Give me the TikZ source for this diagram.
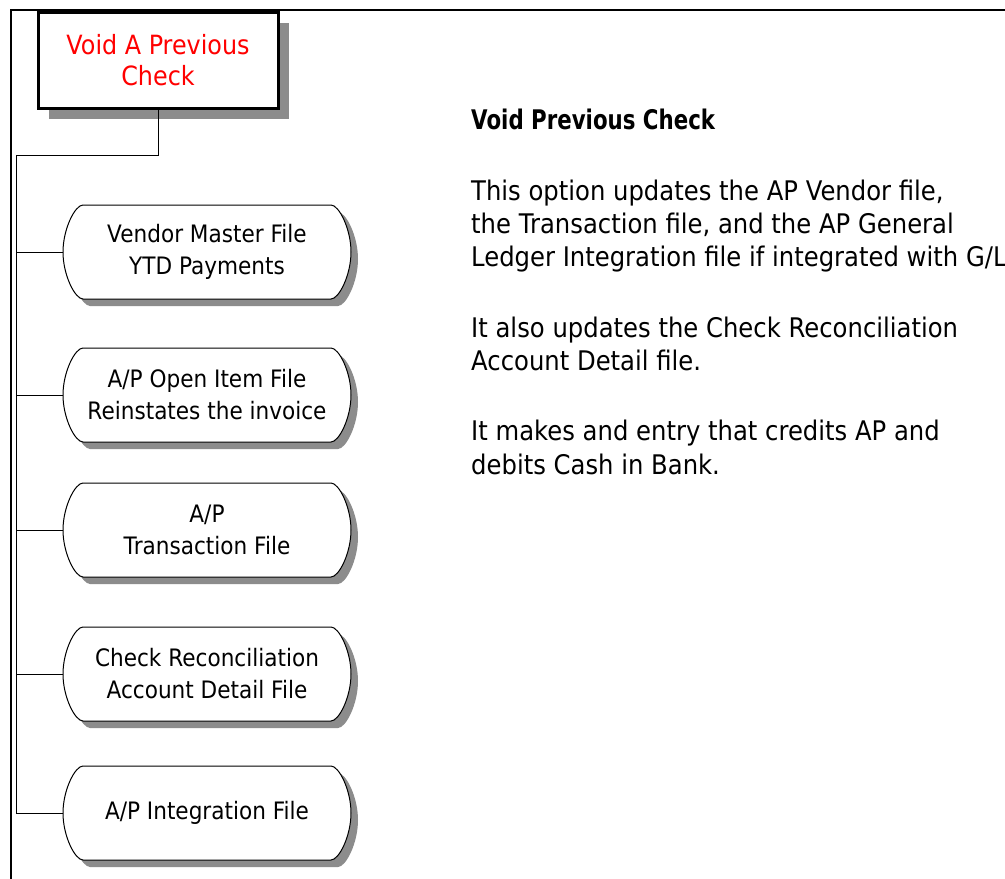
\documentclass[tikz,border=0pt]{standalone}
\usepackage{fontspec}
\setmainfont{DejaVu Sans}[FakeStretch=0.9]
\newfontfamily\headfont{DejaVu Sans}[FakeStretch=0.79]
\usetikzlibrary{shadows}
\definecolor{shadowgray}{RGB}{140,140,140}
% outline of a file box centred at (#1,#2): flat top/bottom, bulging ends
\newcommand{\termpath}[2]{%
  ({#1-124},{#2-47}) -- ({#1+124},{#2-47})
  .. controls ({#1+132},{#2-47}) and ({#1+144},{#2-23}) .. ({#1+144},{#2})
  .. controls ({#1+144},{#2+23}) and ({#1+132},{#2+47}) .. ({#1+124},{#2+47})
  -- ({#1-124},{#2+47})
  .. controls ({#1-132},{#2+47}) and ({#1-144},{#2+23}) .. ({#1-144},{#2})
  .. controls ({#1-144},{#2-23}) and ({#1-132},{#2-47}) .. ({#1-124},{#2-47}) -- cycle}
\begin{document}
\begin{tikzpicture}[x=1pt,y=-1pt,
  fileshadow/.style={fill=shadowgray, shift={(7,7)}},
  fileoutline/.style={draw, fill=white, line width=1pt},
  filetext/.style={rectangle, minimum width=288pt, minimum height=94pt, inner sep=0pt,
    align=center, font=\fontsize{24}{32}\selectfont},
  titlebox/.style={rectangle, draw, line width=3pt, fill=white, minimum width=240pt,
    minimum height=96pt, inner sep=0pt, align=center, text=red,
    font=\fontsize{26.5}{31}\selectfont,
    drop shadow={shadow xshift=11pt, shadow yshift=-11pt, fill=shadowgray, opacity=1}},
  txt/.style={anchor=base west, inner sep=0pt, font=\fontsize{27}{33}\selectfont},
  conn/.style={line width=1pt},
  frame/.style={line width=2pt}]
\clip (0,0) rectangle (1005,879);
\fill[white] (0,0) rectangle (1005,879);
% frame
\draw[frame] (1010,10) -- (11,10) -- (11,890);
% title box
\node[titlebox] (top) at (158,60) {Void A Previous\\Check};
% file boxes
\foreach \y in {252,395,530,674,813}{
  \fill[fileshadow] \termpath{207}{\y};
  \draw[fileoutline] \termpath{207}{\y};
}
\node[filetext] (n1) at (207,252) {Vendor Master File\\YTD Payments};
\node[filetext] (n2) at (207,395) {A/P Open Item File\\Reinstates the invoice};
\node[filetext] (n3) at (207,530) {A/P\\Transaction File};
\node[filetext] (n4) at (207,674) {Check Reconciliation\\Account Detail File};
\node[filetext] (n5) at (207,813) {A/P Integration File};
% connectors
\coordinate (bus) at (16,155);
\draw[conn] (top.south) |- (bus) -- (bus |- n5.west);
\foreach \n in {n1,n2,n3,n4,n5}{
  \draw[conn] (bus |- \n.west) -- (\n.west);
}
% description text
\node[txt] (h) at (471,129) {\headfont\bfseries Void Previous Check};
\node[txt] (l1) at (471,200) {This option updates the AP Vendor file,};
\node[txt] (l2) at (471,233) {the Transaction file, and the AP General};
\node[txt] (l3) at (471,266) {Ledger Integration file if integrated with G/L};
\node[txt] (l4) at (471,337) {It also updates the Check Reconciliation};
\node[txt] (l5) at (471,370) {Account Detail file.};
\node[txt] (l6) at (471,440) {It makes and entry that credits AP and};
\node[txt] (l7) at (471,474) {debits Cash in Bank.};
\end{tikzpicture}
\end{document}
